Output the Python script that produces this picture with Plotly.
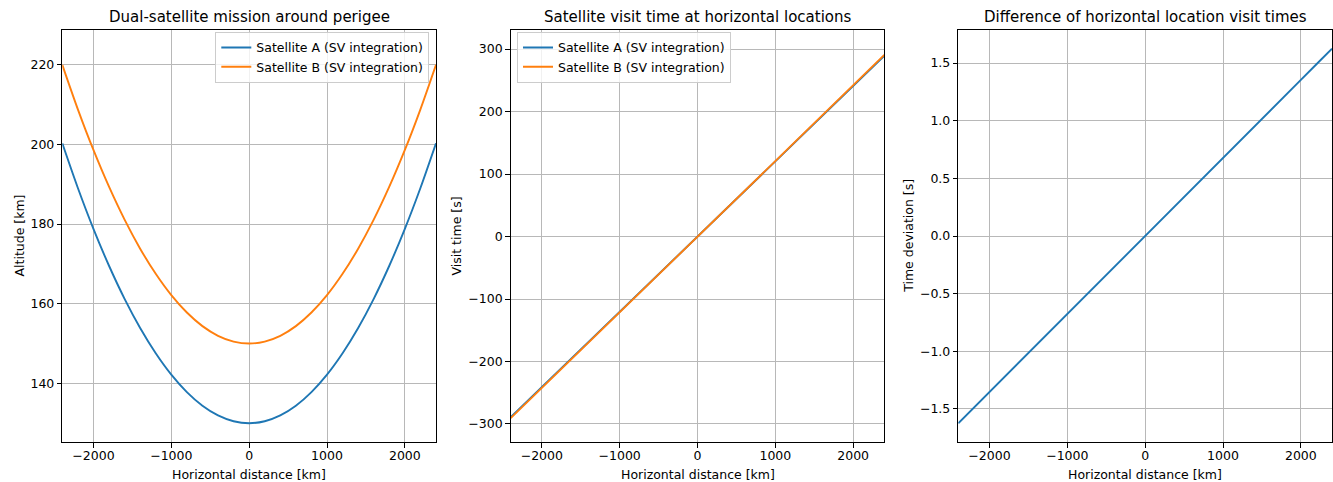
import plotly.graph_objects as go

# ---------------- data ----------------
distance_km = [-2400, -2200, -2000, -1800, -1600, -1400, -1200, -1000, -800, -600, -400, -200,
               0, 200, 400, 600, 800, 1000, 1200, 1400, 1600, 1800, 2000, 2200, 2400]

altitude_a = [200.27, 189.05, 178.80, 169.53, 161.23, 153.91, 147.57, 142.20, 137.81, 134.39, 131.95, 130.49,
              130.00, 130.49, 131.95, 134.39, 137.81, 142.20, 147.57, 153.91, 161.23, 169.53, 178.80, 189.05, 200.27]
altitude_b = [219.98, 208.81, 198.60, 189.37, 181.10, 173.81, 167.50, 162.15, 157.78, 154.37, 151.94, 150.49,
              150.00, 150.49, 151.94, 154.37, 157.78, 162.15, 167.50, 173.81, 181.10, 189.37, 198.60, 208.81, 219.98]

visit_time_a = [-289.0, -264.8, -240.7, -216.5, -192.3, -168.2, -144.1, -120.0, -96.0, -72.0, -48.0, -24.0,
                0.0, 24.0, 48.0, 72.0, 96.0, 120.0, 144.1, 168.2, 192.3, 216.5, 240.7, 264.8, 289.0]
visit_time_b = [-290.6, -266.3, -242.1, -217.7, -193.4, -169.1, -144.9, -120.7, -96.5, -72.4, -48.3, -24.1,
                0.0, 24.1, 48.3, 72.4, 96.5, 120.7, 144.9, 169.1, 193.4, 217.7, 242.1, 266.3, 290.6]

time_deviation = [-1.625, -1.490, -1.354, -1.219, -1.083, -0.948, -0.812, -0.677, -0.542, -0.406, -0.271, -0.135,
                  0.0, 0.135, 0.271, 0.406, 0.542, 0.677, 0.812, 0.948, 1.083, 1.219, 1.354, 1.490, 1.625]

x_ticks = [-2000, -1000, 0, 1000, 2000]
alt_ticks = [140, 160, 180, 200, 220]
time_ticks = [-300, -200, -100, 0, 100, 200, 300]
dev_ticks = [-1.5, -1.0, -0.5, 0.0, 0.5, 1.0, 1.5]

titles = ["Dual-satellite mission around perigee",
          "Satellite visit time at horizontal locations",
          "Difference of horizontal location visit times"]
y_titles = ["Altitude [km]", "Visit time [s]", "Time deviation [s]"]
x_title = "Horizontal distance [km]"
name_a = "Satellite A (SV integration)"
name_b = "Satellite B (SV integration)"

BLUE = "#1f77b4"
ORANGE = "#ff7f0e"
FONT = "DejaVu Sans"
W, H = 1333, 482

fig = go.Figure()

lw = 1.9
fig.add_trace(go.Scatter(x=distance_km, y=altitude_a, mode="lines", name=name_a,
                         line=dict(color=BLUE, width=lw, shape="spline", smoothing=0.8),
                         xaxis="x", yaxis="y", legend="legend"))
fig.add_trace(go.Scatter(x=distance_km, y=altitude_b, mode="lines", name=name_b,
                         line=dict(color=ORANGE, width=lw, shape="spline", smoothing=0.8),
                         xaxis="x", yaxis="y", legend="legend"))
fig.add_trace(go.Scatter(x=distance_km, y=visit_time_a, mode="lines", name=name_a,
                         line=dict(color=BLUE, width=lw),
                         xaxis="x2", yaxis="y2", legend="legend2"))
fig.add_trace(go.Scatter(x=distance_km, y=visit_time_b, mode="lines", name=name_b,
                         line=dict(color=ORANGE, width=lw),
                         xaxis="x2", yaxis="y2", legend="legend2"))
fig.add_trace(go.Scatter(x=distance_km, y=time_deviation, mode="lines", showlegend=False,
                         line=dict(color=BLUE, width=lw),
                         xaxis="x3", yaxis="y3"))

# axes geometry in pixels
x_doms_px = [(62.3, 436.0), (510.7, 884.3), (958.3, 1332.0)]
y_dom_px = (29.7, 442.3)
y_dom = [1 - y_dom_px[1] / H, 1 - y_dom_px[0] / H]
y_ranges = [[125.2, 228.8], [-329.3, 330.9], [-1.79, 1.79]]
y_tickvals = [alt_ticks, time_ticks, dev_ticks]
y_formats = ["d", "d", ".1f"]

common = dict(showline=True, linecolor="black", linewidth=1, mirror=True,
              ticks="outside", ticklen=4.5, tickwidth=1, tickcolor="black",
              showgrid=True, gridcolor="#b8b8b8", gridwidth=1, zeroline=False,
              tickfont=dict(family=FONT, size=12.5, color="black"))

layout = {}
for i in range(3):
    sfx = "" if i == 0 else str(i + 1)
    xd = [x_doms_px[i][0] / W, x_doms_px[i][1] / W]
    layout["xaxis" + sfx] = dict(domain=xd, range=[-2400, 2400], tickvals=x_ticks,
                                 anchor="y" + sfx, tickformat="d", ticklabelstandoff=-3,
                                 **common)
    layout["yaxis" + sfx] = dict(domain=y_dom, range=y_ranges[i], tickvals=y_tickvals[i],
                                 anchor="x" + sfx, tickformat=y_formats[i], **common)

annotations = []
y_title_x_px = [18.5, 455.5, 907.8]
for i in range(3):
    cx = (x_doms_px[i][0] + x_doms_px[i][1]) / 2
    annotations.append(dict(text=titles[i], x=cx / W, y=1 - 17.5 / H, xref="paper", yref="paper",
                            xanchor="center", yanchor="middle", showarrow=False,
                            font=dict(family=FONT, size=15, color="black")))
    annotations.append(dict(text=x_title, x=cx / W, y=1 - 474 / H, xref="paper", yref="paper",
                            xanchor="center", yanchor="middle", showarrow=False,
                            font=dict(family=FONT, size=12.5, color="black")))
    annotations.append(dict(text=y_titles[i], x=y_title_x_px[i] / W, y=1 - 236 / H,
                            xref="paper", yref="paper", textangle=-90,
                            xanchor="center", yanchor="middle", showarrow=False,
                            font=dict(family=FONT, size=12.5, color="black")))

legend_style = dict(bgcolor="rgba(255,255,255,0.8)", bordercolor="#cccccc", borderwidth=1,
                    font=dict(family=FONT, size=12.5, color="black"),
                    xref="paper", yref="paper", yanchor="top", tracegroupgap=0)

fig.update_layout(
    width=W, height=H, margin=dict(l=0, r=0, t=0, b=0),
    paper_bgcolor="white", plot_bgcolor="white",
    font=dict(family=FONT, size=12.5, color="black"),
    annotations=annotations,
    legend=dict(x=429.3 / W, y=1 - 31.8 / H, xanchor="right", **legend_style),
    legend2=dict(x=517 / W, y=1 - 31.8 / H, xanchor="left", **legend_style),
    **layout,
)

fig.write_html(
    "out.html",
    config={"displayModeBar": False},
    post_script="document.body.style.margin='0px';document.body.style.overflow='hidden';",
)
